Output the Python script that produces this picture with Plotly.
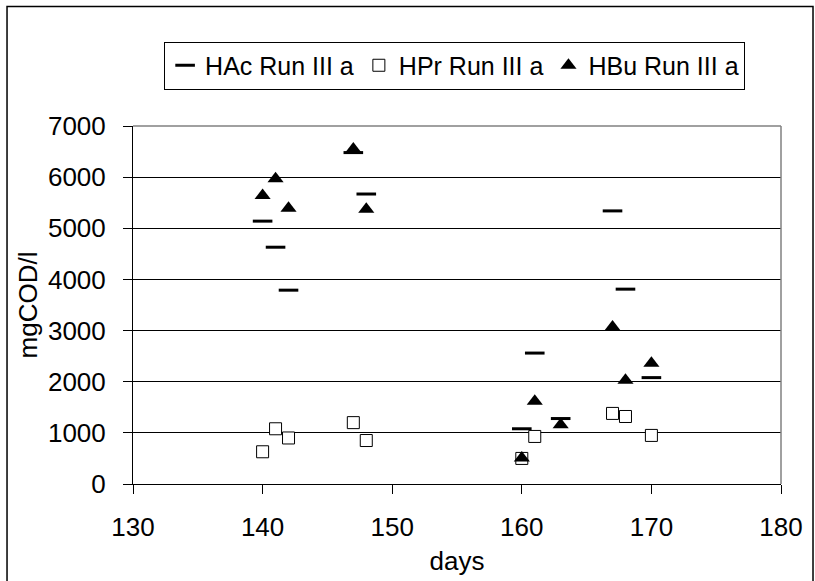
import plotly.graph_objects as go

# days sampled in Run III a
days_hac = [140, 141, 142, 147, 148, 160, 161, 163, 167, 168, 170]
hac = [5140, 4630, 3790, 6480, 5670, 1080, 2560, 1280, 5340, 3810, 2080]

days_hpr = [140, 141, 142, 147, 148, 160, 161, 167, 168, 170]
hpr = [630, 1080, 900, 1200, 850, 500, 930, 1380, 1320, 950]

days_hbu = [140, 141, 142, 147, 148, 160, 161, 163, 167, 168, 170]
hbu = [5640, 5970, 5390, 6550, 5370, 510, 1620, 1160, 3070, 2030, 2360]

FONT = "Liberation Sans, Arial, sans-serif"

fig = go.Figure()
fig.add_trace(go.Scatter(x=days_hac, y=hac, mode="markers", name="HAc Run III a",
                         marker=dict(symbol="line-ew", size=14, color="black",
                                     line=dict(color="black", width=3))))
fig.add_trace(go.Scatter(x=days_hpr, y=hpr, mode="markers", name="HPr Run III a",
                         marker=dict(symbol="square", size=12, color="white",
                                     line=dict(color="black", width=1))))
fig.add_trace(go.Scatter(x=days_hbu, y=hbu, mode="markers", name="HBu Run III a",
                         marker=dict(symbol="triangle-up", size=14, color="black",
                                     line=dict(color="black", width=0))))

axis_font = dict(family=FONT, size=26, color="black")
fig.update_xaxes(range=[130, 180], dtick=10, showgrid=False, zeroline=False,
                 showline=True, linecolor="black", linewidth=1,
                 ticks="outside", ticklen=9, tickcolor="black",
                 tickfont=axis_font, ticklabelstandoff=11,
                 title=dict(text="days", font=axis_font, standoff=10))
fig.update_yaxes(range=[0, 7000], dtick=1000, showgrid=True, gridcolor="black",
                 gridwidth=1, zeroline=False,
                 showline=True, linecolor="black", linewidth=1,
                 ticks="outside", ticklen=9, tickcolor="black",
                 tickfont=axis_font, ticklabelstandoff=12,
                 title=dict(text="mgCOD/l", font=axis_font, standoff=2))

# grey plot-area frame on top and right, black chart-area frame
fig.add_shape(type="line", xref="paper", yref="paper", x0=0, x1=1, y0=1, y1=1,
              line=dict(color="#808080", width=1.5))
fig.add_shape(type="line", xref="paper", yref="paper", x0=1, x1=1, y0=0, y1=1,
              line=dict(color="#808080", width=1.5))
fig.add_shape(type="rect", xref="paper", yref="paper", x0=-0.1944, x1=1.0494,
              y0=-0.32, y1=1.3338, line=dict(color="black", width=1.5),
              fillcolor="rgba(0,0,0,0)", layer="below")

fig.update_layout(
    width=815, height=581,
    margin=dict(l=133, r=34, t=126, b=97),
    paper_bgcolor="white", plot_bgcolor="white",
    font=dict(family=FONT, size=26, color="black"),
    showlegend=True,
    legend=dict(orientation="h", x=0.048, y=1.236, xanchor="left", yanchor="top",
                bordercolor="black", borderwidth=1, bgcolor="white",
                font=dict(family=FONT, size=25, color="black"),
                itemwidth=30, tracegroupgap=0),
)

fig.write_html("out.html", config={"displayModeBar": False},
               post_script="document.body.style.margin='0';")
